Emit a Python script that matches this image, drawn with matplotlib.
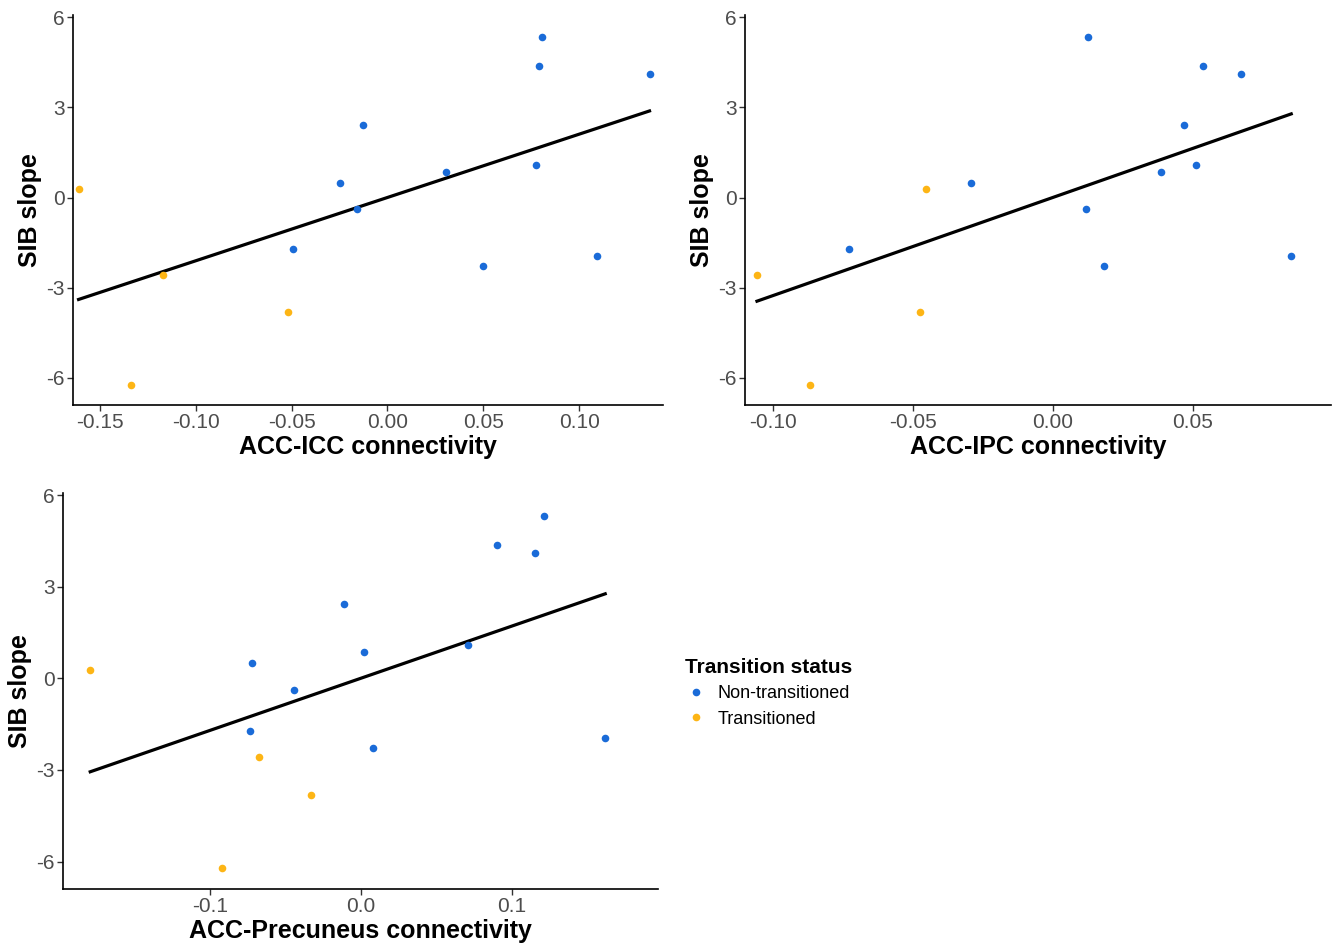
import numpy as np
import matplotlib
matplotlib.use("Agg")
import matplotlib.pyplot as plt
from matplotlib.lines import Line2D

plt.rcParams['font.family'] = ['Liberation Sans', 'DejaVu Sans']
plt.rcParams['axes.unicode_minus'] = False

# SIB slope per subject (same for every panel)
sib_blue = [5.33, 4.38, 4.11, 2.42, 0.49, 0.85, 1.08, -0.39, -1.71, -2.28, -1.96]
sib_orange = [0.28, -2.57, -3.81, -6.22]

# connectivity values, same subject order as above
icc_blue = [0.0807, 0.0792, 0.1366, -0.0125, -0.0246, 0.0304, 0.0774, -0.0157, -0.0494, 0.0499, 0.1093]
icc_orange = [-0.1610, -0.1170, -0.0517, -0.1337]

ipc_blue = [0.0127, 0.0537, 0.0674, 0.0470, -0.0290, 0.0386, 0.0511, 0.0120, -0.0727, 0.0184, 0.0852]
ipc_orange = [-0.0454, -0.1056, -0.0474, -0.0866]

prec_blue = [0.1211, 0.0905, 0.1152, -0.0111, -0.0726, 0.0023, 0.0712, -0.0445, -0.0735, 0.0082, 0.1620]
prec_orange = [-0.1796, -0.0678, -0.0332, -0.0922]

BLUE = '#1A6BD8'
ORANGE = '#FDB515'
GREY = '#4D4D4D'


def panel(ax, xb, xo, xlabel, xlim, xticks, fmt):
    x = np.array(xb + xo)
    y = np.array(sib_blue + sib_orange)
    ax.scatter(xb, sib_blue, s=30, color=BLUE, linewidths=0, zorder=3)
    ax.scatter(xo, sib_orange, s=30, color=ORANGE, linewidths=0, zorder=3)
    k, b = np.polyfit(x, y, 1)
    xs = np.array([x.min(), x.max()])
    ax.plot(xs, k * xs + b, color='black', lw=2.3, zorder=2)
    ax.set_xlim(*xlim)
    ax.set_ylim(-6.9, 6.07)
    ax.set_xticks(xticks)
    ax.set_xticklabels([fmt % t for t in xticks])
    ax.set_yticks([-6, -3, 0, 3, 6])
    ax.set_xlabel(xlabel, fontsize=18, fontweight='bold', labelpad=2)
    ax.set_ylabel('SIB slope', fontsize=18, fontweight='bold', labelpad=3)
    for s in ['top', 'right']:
        ax.spines[s].set_visible(False)
    for s in ['left', 'bottom']:
        ax.spines[s].set_linewidth(1.2)
    ax.tick_params(axis='both', labelsize=15, labelcolor=GREY, color='#333333',
                   length=4, width=1.0, pad=2)


fig = plt.figure(figsize=(13.42, 9.47), dpi=100)

ax1 = fig.add_axes([0.0544, 0.5723, 0.4396, 0.4118])
panel(ax1, icc_blue, icc_orange, 'ACC-ICC connectivity', (-0.1639, 0.1436),
      [-0.15, -0.10, -0.05, 0.00, 0.05, 0.10], '%.2f')

ax2 = fig.add_axes([0.5551, 0.5723, 0.4367, 0.4118])
panel(ax2, ipc_blue, ipc_orange, 'ACC-IPC connectivity', (-0.1099, 0.0994),
      [-0.10, -0.05, 0.00, 0.05], '%.2f')

ax3 = fig.add_axes([0.0469, 0.0612, 0.4434, 0.4182])
panel(ax3, prec_blue, prec_orange, 'ACC-Precuneus connectivity', (-0.1977, 0.197),
      [-0.1, 0.0, 0.1], '%.1f')

handles = [Line2D([], [], ls='', marker='o', ms=5.5, color=BLUE, mec='none'),
           Line2D([], [], ls='', marker='o', ms=5.5, color=ORANGE, mec='none')]
leg = fig.legend(handles, ['Non-transitioned', 'Transitioned'], title='Transition status',
                 loc='upper left', bbox_to_anchor=(669 / 1342, 1 - 642 / 947),
                 frameon=False, fontsize=13, title_fontsize=15, alignment='left',
                 handletextpad=0.6, labelspacing=0.45, handlelength=1.2)
leg.get_title().set_fontweight('bold')

fig.savefig('out.png', dpi=100)
